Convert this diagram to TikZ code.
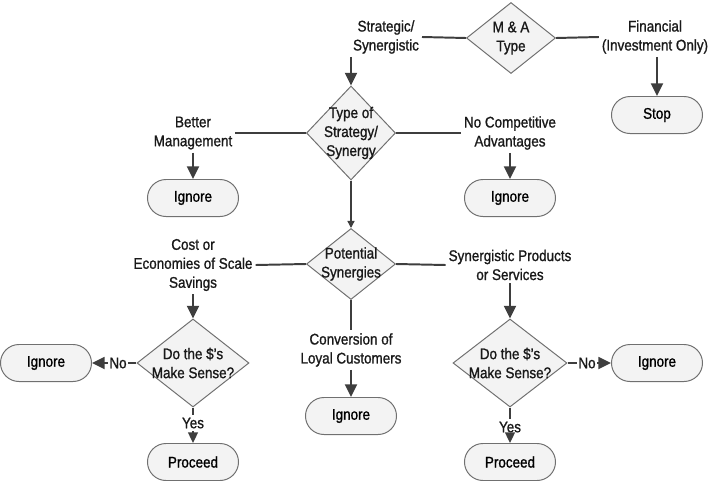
\documentclass[tikz,border=0pt]{standalone}
\usepackage{fontspec}
\setmainfont{Liberation Sans}[FakeStretch=0.87,FakeBold=1.1]
\usetikzlibrary{shapes.geometric,shapes.misc,arrows.meta,positioning}
\definecolor{flowLine}{RGB}{62,62,62}
\definecolor{flowEdge}{RGB}{112,112,112}
\definecolor{flowFill}{RGB}{243,243,243}
\tikzset{
  decision/.style={diamond, draw=flowEdge, fill=flowFill, line width=0.7pt, inner sep=0pt},
  dtext/.style={align=center, inner sep=0pt, text=black!90},
  terminal/.style={rounded rectangle, draw=flowEdge, fill=flowFill, line width=0.7pt,
    minimum width=2.275cm, minimum height=0.925cm, inner sep=0pt},
  branch/.style={align=center, inner sep=2pt, text=black!90},
  link/.style={flowLine, line width=1.4pt},
  flow/.style={link, -{Triangle[length=9pt,width=8.5pt]}},
  thin flow/.style={flowLine, line width=0.9pt, -{Triangle[length=5pt,width=5pt]}},
  yes flow/.style={flowLine, line width=0.9pt, -{Triangle[length=7.5pt,width=7pt]}},
}
\begin{document}
\begin{tikzpicture}[x=0.025cm, y=-0.025cm, font=\fontsize{11}{13.5}\selectfont]
\useasboundingbox (0,0) rectangle (713,481);

% decisions
\node[decision, minimum width=2.225cm, minimum height=1.775cm,
  label={[dtext]center:M \& A\\Type}] (ma) at (511,38) {};
\node[decision, minimum width=2.225cm, minimum height=2.35cm,
  label={[dtext]center:Type of\\Strategy/\\Synergy}] (typ) at (351,133) {};
\node[decision, minimum width=2.225cm, minimum height=1.775cm,
  label={[dtext]center:Potential\\Synergies}] (pot) at (351,264) {};
\node[decision, minimum width=2.8cm, minimum height=2.2cm,
  label={[dtext]center:Do the \$'s\\Make Sense?}] (dl) at (193,363) {};
\node[decision, minimum width=2.85cm, minimum height=2.2cm,
  label={[dtext]center:Do the \$'s\\Make Sense?}] (dr) at (510,363) {};

% branch labels
\node[branch] (strat) at (386,37) {Strategic/\\Synergistic};
\node[branch] (fin) at (655,37) {Financial\\(Investment Only)};
\node[branch] (better) at (193,133) {Better\\Management};
\node[branch] (nocomp) at (510,133) {No Competitive\\Advantages};
\node[branch] (cost) at (193,265) {Cost or\\Economies of Scale\\Savings};
\node[branch] (syn) at (510,265) {Synergistic Products\\or Services};
\node[branch] (conv) at (351,350) {Conversion of\\Loyal Customers};
\node[branch, inner sep=1pt] (noL) at (118,363) {No};
\node[branch, inner sep=1pt] (noR) at (587,363) {No};
\node[branch] (yesL) at (193,423) {Yes};
\node[branch] (yesR) at (510,427) {Yes};

% terminals
\node[terminal] (stop) at (657,115) {Stop};
\node[terminal] (ign1) at (193,198) {Ignore};
\node[terminal] (ign2) at (510,198) {Ignore};
\node[terminal] (ign3) at (351,416) {Ignore};
\node[terminal] (ignL) at (46,363) {Ignore};
\node[terminal] (ignR) at (657,363) {Ignore};
\node[terminal] (procL) at (193,462) {Proceed};
\node[terminal] (procR) at (510,462) {Proceed};

% connectors
\draw[link] (ma.west) -- (strat.east);
\draw[link] (ma.east) -- (fin.west);
\draw[flow] (strat.south -| typ.north) -- (typ.north);
\draw[flow] (fin.south -| stop.north) -- (stop.north);
\draw[link] (typ.west) -- (better.east);
\draw[link] (typ.east) -- (nocomp.west);
\draw[flow] (better.south) -- (ign1.north);
\draw[flow] (nocomp.south) -- (ign2.north);
\draw[thin flow] (typ.south) -- (pot.north);
\draw[link] (pot.west) -- (cost.east);
\draw[link] (pot.east) -- (syn.west);
\draw[link] (pot.south) -- (conv.north);
\draw[flow] (conv.south) -- (ign3.north);
\draw[flow] (cost.south) -- (dl.north);
\draw[flow] (syn.south) -- (dr.north);
\draw[link] (dl.west) -- (noL.east);
\draw[flow] (noL.west) -- (ignL.east);
\draw[link] (dr.east) -- (noR.west);
\draw[flow] (noR.east) -- (ignR.west);
\draw[link] (dl.south) -- (yesL.north);
\draw[yes flow] (yesL.south) -- (procL.north);
\draw[link] (dr.south) -- (yesR.north);
\draw[yes flow] (yesR.south) -- (procR.north);
\end{tikzpicture}
\end{document}
